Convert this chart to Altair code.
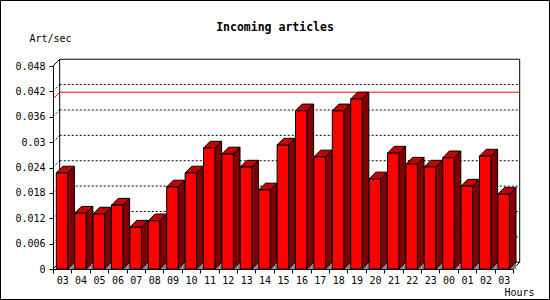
import altair as alt
import pandas as pd

# ---- data ----
hour_labels = ["03", "04", "05", "06", "07", "08", "09", "10", "11", "12", "13", "14", "15",
               "16", "17", "18", "19", "20", "21", "22", "23", "00", "01", "02", "03"]
art_per_sec = [0.0227, 0.0132, 0.0130, 0.0151, 0.0099, 0.0114, 0.0194, 0.0227, 0.0286, 0.0272,
               0.0241, 0.0187, 0.0293, 0.0374, 0.0265, 0.0374, 0.0402, 0.0213, 0.0274, 0.0248,
               0.0241, 0.0263, 0.0196, 0.0267, 0.0177]
y_ticks = [0, 0.006, 0.012, 0.018, 0.024, 0.03, 0.036, 0.042, 0.048]

# ---- geometry / style ----
N = len(hour_labels)
YMAX = 0.048
W, H = 460, 203
DX = 0.364           # depth in x-units
DY = 0.0016          # depth in y-units
B0, B1 = 0.18, 0.80  # bar front within band
FONT = "DejaVu Sans Mono"

xs = alt.Scale(domain=[0, N], nice=False, zero=False)
ys = alt.Scale(domain=[0, YMAX], nice=False, zero=False)

arr = "[" + ",".join("'" + l + "'" for l in hour_labels) + "]"
x_axis = alt.Axis(
    values=[i * 0.5 for i in range(2 * N + 1)],
    labelExpr="datum.value % 1 === 0.5 ? " + arr + "[floor(datum.value)] : ''",
    tickOpacity={"condition": {"test": "datum.value % 1 === 0.5", "value": 0}, "value": 1},
    tickSize=4, tickColor="black", domainColor="black", grid=False,
    labelFont=FONT, labelFontSize=10, labelColor="black", labelPadding=2,
    labelFlush=False, labelOverlap=False, labelAngle=0,
    title="Hours", titleFont=FONT, titleFontSize=10, titleFontWeight="normal",
    titleColor="black", titleX=481, titleY=23, titleAlign="right", titleBaseline="middle",
    titleAnchor="end",
)
y_axis = alt.Axis(
    values=y_ticks, format=".3~f",
    tickSize=4, tickColor="black", domainColor="black", grid=False,
    labelFont=FONT, labelFontSize=10, labelColor="black", labelPadding=4,
    title="Art/sec", titleFont=FONT, titleFontSize=10, titleFontWeight="normal",
    titleColor="black", titleAngle=0, titleX=-24, titleY=-28, titleAlign="left",
    titleBaseline="middle",
)


def X(f="x"):
    return alt.X(f"{f}:Q", scale=xs, axis=x_axis)


def Y(f="y"):
    return alt.Y(f"{f}:Q", scale=ys, axis=y_axis)


# ---- tables built from the arrays ----
front = pd.DataFrame({"x": [i + B0 for i in range(N)], "x2": [i + B1 for i in range(N)],
                      "y": [0.0] * N, "y2": art_per_sec})
side_rows, top_rows, shadow_rows = [], [], []
for i, v in enumerate(art_per_sec):
    side_rows += [{"b": i, "x": i + B1, "y": v, "y2": 0.0},
                  {"b": i, "x": i + B1 + DX, "y": v + DY, "y2": DY}]
    top_rows += [{"b": i, "y": v, "x": i + B0, "x2": i + B1},
                 {"b": i, "y": v + DY, "x": i + B0 + DX, "x2": i + B1 + DX}]
    shadow_rows += [{"b": i, "x": i + B1, "y": 0.0, "y2": 0.0},
                    {"b": i, "x": i + B1 + DX, "y": DY, "y2": 0.0}]
side = pd.DataFrame(side_rows)
top = pd.DataFrame(top_rows)
shadow = pd.DataFrame(shadow_rows)

vmax = max(art_per_sec)
wall = pd.DataFrame({"x": [DX], "x2": [N + DX], "y": [DY], "y2": [YMAX + DY]})
grid_vals = [t for t in y_ticks if 0 < t < YMAX]
grid_h = pd.DataFrame({"x": [DX] * len(grid_vals), "x2": [N + DX] * len(grid_vals),
                       "y": [t + DY for t in grid_vals], "y2": [t + DY for t in grid_vals]})
grid_d = pd.DataFrame({"x": [0.0] * len(grid_vals), "x2": [DX] * len(grid_vals),
                       "y": grid_vals, "y2": [t + DY for t in grid_vals]})
edges = pd.DataFrame({"x": [0.0, N, 0.0], "x2": [DX, N + DX, DX],
                      "y": [YMAX, 0.0, 0.0], "y2": [YMAX + DY, DY, DY]})
maxline = pd.DataFrame({"x": [DX, 0.0], "x2": [N + DX, DX],
                        "y": [vmax + DY, vmax], "y2": [vmax + DY, vmax + DY]})

wall_l = alt.Chart(wall).mark_rect(fill="white", stroke="black", strokeWidth=1).encode(
    x=X(), x2="x2:Q", y=Y(), y2="y2:Q")
grid_hl = alt.Chart(grid_h).mark_rule(color="black", strokeDash=[2, 2], strokeWidth=1).encode(
    x=X(), x2="x2:Q", y=Y(), y2="y2:Q")
grid_dl = alt.Chart(grid_d).mark_rule(color="black", strokeDash=[2, 2], strokeWidth=1).encode(
    x=X(), x2="x2:Q", y=Y(), y2="y2:Q")
edge_l = alt.Chart(edges).mark_rule(color="black", strokeWidth=1).encode(
    x=X(), x2="x2:Q", y=Y(), y2="y2:Q")
max_l = alt.Chart(maxline).mark_rule(color="#ff0000", strokeWidth=1).encode(
    x=X(), x2="x2:Q", y=Y(), y2="y2:Q")

shadow_l = alt.Chart(shadow).mark_area(orient="vertical", color="#888888").encode(
    x=X(), y=Y(), y2="y2:Q", detail="b:N")
side_l = alt.Chart(side).mark_area(orient="vertical", fill="#800000", stroke="black",
                                   strokeWidth=1, fillOpacity=1).encode(
    x=X(), y=Y(), y2="y2:Q", detail="b:N")
top_l = alt.Chart(top).mark_area(orient="horizontal", fill="#c40000", stroke="black",
                                 strokeWidth=1, fillOpacity=1).encode(
    y=Y(), x=X(), x2="x2:Q", detail="b:N")
front_l = alt.Chart(front).mark_rect(fill="#ff0000", stroke="black", strokeWidth=1).encode(
    x=X(), x2="x2:Q", y=Y(), y2="y2:Q")

frame_l = alt.Chart(pd.DataFrame({"k": [0]})).mark_rect(
    fill="transparent", stroke="black", strokeWidth=1).encode(
    x=alt.value(-52.5), x2=alt.value(496.5), y=alt.value(-65.5), y2=alt.value(233.5))

chart = alt.layer(
    wall_l, grid_hl, grid_dl, edge_l, max_l, shadow_l, side_l, top_l, front_l, frame_l
).properties(
    width=W, height=H,
    autosize=alt.AutoSizeParams(type="none"),
    padding={"left": 53, "top": 66, "right": 37, "bottom": 31},
    background="white",
    title=alt.TitleParams("Incoming articles", font=FONT, fontSize=11.5, fontWeight="bold",
                          color="black", anchor="middle", frame="group", offset=0,
                          baseline="middle", dx=-8, dy=39),
).configure_view(strokeWidth=0)

chart.save("out.html", embed_options={"renderer": "svg", "actions": False})
